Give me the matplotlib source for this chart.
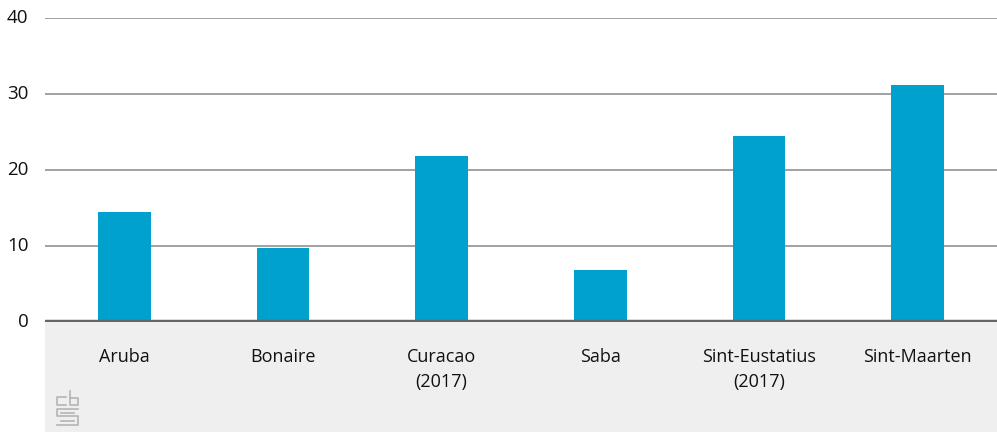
import matplotlib.pyplot as plt
from matplotlib.patches import Rectangle

# values
islands = ["Aruba", "Bonaire", "Curacao\n(2017)", "Saba", "Sint-Eustatius\n(2017)", "Sint-Maarten"]
values = [14.5, 9.8, 21.8, 6.8, 24.5, 31.2]
yticks = [0, 10, 20, 30, 40]

W, H = 997, 433
fig = plt.figure(figsize=(W / 100, H / 100), dpi=100)
plt.rcParams['font.family'] = ['Open Sans', 'DejaVu Sans']

# grey band under the x axis
fig.patches.append(Rectangle((45 / W, 1 / H), 1 - 45 / W, (H - 322 - 1) / H,
                             transform=fig.transFigure, facecolor="#efefef",
                             edgecolor="none", zorder=0))

ax = fig.add_axes([45 / W, (H - 322) / H, 1 - 45 / W, (322 - 18) / H])
ax.set_zorder(2)
ax.patch.set_alpha(0)
x = range(len(islands))
ax.bar(x, values, width=0.333, color="#00a1cd", zorder=3)
ax.set_xlim(-0.5, len(islands) - 0.5)
ax.set_ylim(0, 40)
ax.set_yticks(yticks)
ax.set_xticks(list(x))
ax.set_xticklabels(islands, linespacing=1.45)
ax.tick_params(axis="y", length=0, pad=12, labelsize=13.5, colors="#111111")
ax.tick_params(axis="x", length=0, pad=19, labelsize=13, colors="#111111")
for lab in ax.get_yticklabels():
    lab.set_verticalalignment("center")
for lab in ax.get_xticklabels():
    lab.set_verticalalignment("top")

for y in yticks[1:]:
    ax.axhline(y, color="#9a9a9a", lw=1.3, zorder=1)
ax.axhline(0, color="#666666", lw=3.2, zorder=4)
for s in ax.spines.values():
    s.set_visible(False)

# small cbs logo, drawn roughly with lines
def seg(xs, ys):
    fig.add_artist(plt.Line2D([v / W for v in xs], [1 - v / H for v in ys],
                              color="#b5b5b5", lw=1.2))
seg([66, 57, 57, 66], [397, 397, 405, 405])
seg([70, 70, 78, 78, 70], [391, 405, 405, 398, 398])
seg([78, 57, 57, 78, 78, 57], [409, 409, 416, 416, 425, 425])
seg([61, 74], [412.5, 412.5])
seg([61, 74], [420.5, 420.5])

fig.savefig("out.png", dpi=100)
